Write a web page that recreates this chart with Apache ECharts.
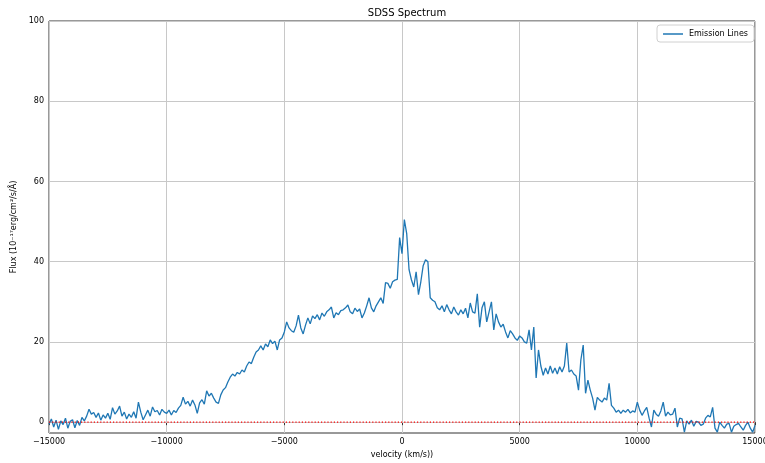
<!DOCTYPE html>
<html>
<head>
<meta charset="utf-8">
<title>SDSS Spectrum</title>
<script src="https://cdn.jsdelivr.net/npm/echarts@6/dist/echarts.min.js"></script>
<style>
  html, body { margin: 0; padding: 0; background: #ffffff; width: 100%; height: 100%; overflow: hidden; }
  #chart { width: 100vw; height: 100vh; }
</style>
</head>
<body>
<div id="chart"></div>
<script>
// Velocity grid (km/s) of the resampled spectrum around the line centre
const velocity = [
  -15000,-14900,-14800,-14700,-14600,-14500,-14400,-14300,-14200,-14100,
  -14000,-13900,-13800,-13700,-13600,-13500,-13400,-13300,-13200,-13100,
  -13000,-12900,-12800,-12700,-12600,-12500,-12400,-12300,-12200,-12100,
  -12000,-11900,-11800,-11700,-11600,-11500,-11400,-11300,-11200,-11100,
  -11000,-10900,-10800,-10700,-10600,-10500,-10400,-10300,-10200,-10100,
  -10000,-9900,-9800,-9700,-9600,-9500,-9400,-9300,-9200,-9100,
  -9000,-8900,-8800,-8700,-8600,-8500,-8400,-8300,-8200,-8100,
  -8000,-7900,-7800,-7700,-7600,-7500,-7400,-7300,-7200,-7100,
  -7000,-6900,-6800,-6700,-6600,-6500,-6400,-6300,-6200,-6100,
  -6000,-5900,-5800,-5700,-5600,-5500,-5400,-5300,-5200,-5100,
  -5000,-4900,-4800,-4700,-4600,-4500,-4400,-4300,-4200,-4100,
  -4000,-3900,-3800,-3700,-3600,-3500,-3400,-3300,-3200,-3100,
  -3000,-2900,-2800,-2700,-2600,-2500,-2400,-2300,-2200,-2100,
  -2000,-1900,-1800,-1700,-1600,-1500,-1400,-1300,-1200,-1100,
  -1000,-900,-800,-700,-600,-500,-400,-300,-200,-100,
  0,100,200,300,400,500,600,700,800,900,
  1000,1100,1200,1300,1400,1500,1600,1700,1800,1900,
  2000,2100,2200,2300,2400,2500,2600,2700,2800,2900,
  3000,3100,3200,3300,3400,3500,3600,3700,3800,3900,
  4000,4100,4200,4300,4400,4500,4600,4700,4800,4900,
  5000,5100,5200,5300,5400,5500,5600,5700,5800,5900,
  6000,6100,6200,6300,6400,6500,6600,6700,6800,6900,
  7000,7100,7200,7300,7400,7500,7600,7700,7800,7900,
  8000,8100,8200,8300,8400,8500,8600,8700,8800,8900,
  9000,9100,9200,9300,9400,9500,9600,9700,9800,9900,
  10000,10100,10200,10300,10400,10500,10600,10700,10800,10900,
  11000,11100,11200,11300,11400,11500,11600,11700,11800,11900,
  12000,12100,12200,12300,12400,12500,12600,12700,12800,12900,
  13000,13100,13200,13300,13400,13500,13600,13700,13800,13900,
  14000,14100,14200,14300,14400,14500,14600,14700,14800,14900,
  15000
];

// Continuum-subtracted flux, 1e-17 erg/cm^2/s/Å
const flux = [
  -0.5, 0.8, -1.2, 0.5, -1.8, 0.3, -0.6, 1.0, -1.5, 0.2,
  0.6, -1.4, 0.4, -0.8, 1.2, 0.3, 1.5, 3.2, 2.0, 2.4,
  1.2, 2.3, 0.5, 1.8, 1.0, 2.2, 0.7, 3.6, 2.0, 2.8,
  4.0, 1.5, 2.5, 0.8, 2.0, 1.2, 2.6, 1.0, 5.0, 2.5,
  0.6, 1.8, 3.0, 1.5, 3.8, 2.6, 2.9, 1.8, 3.2, 2.5,
  2.2, 3.0, 1.8, 2.9, 2.4, 3.5, 4.2, 6.2, 4.5, 5.2,
  4.0, 5.5, 4.3, 2.2, 4.8, 5.6, 4.5, 7.8, 6.5, 7.2,
  6.0, 5.0, 4.7, 6.8, 8.0, 8.6, 10.0, 11.2, 12.0, 11.5,
  12.4, 12.0, 13.0, 12.5, 14.0, 15.0, 14.6, 16.2, 17.5, 18.0,
  19.0, 18.0, 19.5, 18.8, 20.5, 19.6, 20.2, 18.0, 20.5, 21.0,
  22.5, 25.0, 23.5, 22.8, 22.4, 24.0, 26.7, 23.5, 22.0, 24.2,
  26.0, 24.5, 26.5, 25.8, 26.8, 25.5, 27.2, 26.4, 27.5, 28.0,
  28.7, 26.0, 27.3, 26.8, 27.8, 28.0, 28.5, 29.2, 27.5, 27.0,
  28.4, 27.6, 28.2, 26.0, 27.2, 29.0, 31.0, 28.5, 27.5, 29.0,
  30.0, 31.0, 29.6, 34.8, 34.6, 33.4, 35.0, 35.4, 35.6, 46.0,
  42.0, 50.5, 47.0, 38.0, 35.5, 33.7, 37.5, 31.8, 35.0, 39.0,
  40.5, 40.0, 31.0, 30.4, 30.0, 28.5, 28.0, 29.0, 27.5, 29.3,
  28.0, 27.0, 28.7, 27.5, 26.7, 28.0, 27.0, 28.4, 26.0, 29.7,
  27.5, 27.2, 32.0, 23.7, 28.5, 30.0, 25.0, 27.5, 30.0, 23.0,
  27.0, 25.0, 23.7, 24.4, 22.5, 21.0, 22.8, 22.0, 21.0, 20.4,
  21.5, 21.0, 20.0, 19.7, 23.0, 18.0, 23.7, 11.0, 18.0, 14.0,
  11.7, 13.5, 12.0, 14.0, 12.2, 13.5, 12.0, 13.8, 12.5, 14.0,
  19.7, 12.5, 13.0, 12.0, 11.5, 8.0, 15.5, 19.2, 7.2, 10.5,
  8.0, 6.0, 3.0, 6.2, 5.5, 5.0, 6.0, 5.5, 9.7, 4.2,
  3.5, 2.5, 3.0, 2.2, 3.0, 2.5, 3.2, 2.3, 2.8, 2.5,
  5.0, 3.0, 1.7, 2.8, 3.7, 1.0, -1.2, 3.0, 2.0, 1.5,
  2.8, 5.0, 1.5, 2.5, 1.8, 2.0, 3.5, -1.2, 1.0, 0.8,
  -2.5, 0.3, -0.5, 0.5, -1.0, 0.2, 0.0, -0.8, -0.5, 1.0,
  1.7, 1.3, 3.7, -1.5, -2.5, 0.0, -0.8, -1.5, -0.5, -0.3,
  -2.5, -1.0, -0.6, -0.3, -1.2, -2.0, -0.8, 0.0, -1.5, -2.5,
  -0.8
];

// Zero-flux reference line
const zeroLine = [[-15000, 0], [15000, 0]];

// Axis ticks
const xTicks = [-15000, -10000, -5000, 0, 5000, 10000, 15000];
const yTicks = [0, 20, 40, 60, 80, 100];

const FONT = 'DejaVu Sans';
const fmtNum = v => (v < 0 ? '\u2212' + Math.abs(v) : String(v));

const chart = echarts.init(document.getElementById('chart'), null, { renderer: 'canvas' });

chart.setOption({
  animation: false,
  backgroundColor: '#ffffff',
  textStyle: { fontFamily: FONT },
  title: {
    text: 'SDSS Spectrum',
    left: 402,
    top: 3,
    textAlign: 'center',
    textStyle: { fontFamily: FONT, fontSize: 10, fontWeight: 'normal', color: '#000' }
  },
  legend: {
    data: [{ name: 'Emission Lines', icon: 'rect' }],
    right: 11,
    top: 25,
    itemWidth: 20,
    itemHeight: 1.5,
    itemGap: 4,
    padding: [5, 6, 4, 6],
    borderColor: '#d0d0d0',
    borderWidth: 1,
    borderRadius: 3,
    backgroundColor: 'rgba(255,255,255,0.8)',
    textStyle: { fontFamily: FONT, fontSize: 8, color: '#000', padding: [0, 0, 0, 1] }
  },
  grid: {
    left: 49,
    right: 10,
    top: 21,
    bottom: 30,
    show: true,
    borderColor: '#333',
    borderWidth: 1,
    containLabel: false,
    outerBoundsMode: 'none'
  },
  xAxis: {
    type: 'value',
    min: -15000,
    max: 15000,
    interval: 5000,
    name: 'velocity (km/s))',
    nameLocation: 'middle',
    nameGap: 18,
    nameTextStyle: { fontFamily: FONT, fontSize: 8, color: '#000' },
    axisLine: { show: false },
    axisTick: { show: true, inside: false, length: 3, lineStyle: { color: '#333', width: 1 } },
    axisLabel: { fontFamily: FONT, fontSize: 8, color: '#000', margin: 5, formatter: fmtNum, showMinLabel: true, showMaxLabel: true },
    splitLine: { show: true, lineStyle: { color: '#c8c8c8', width: 1 } }
  },
  yAxis: {
    type: 'value',
    min: -2.7,
    max: 100,
    name: 'Flux (10\u207B\u00B9\u2077erg/cm\u00B2/s/\u00C5)',
    nameLocation: 'middle',
    nameGap: 30,
    nameRotate: 90,
    nameTextStyle: { fontFamily: FONT, fontSize: 8, color: '#000' },
    axisLine: { show: false },
    axisTick: { show: true, inside: false, length: 3, customValues: yTicks, lineStyle: { color: '#333', width: 1 } },
    axisLabel: { fontFamily: FONT, fontSize: 8, color: '#000', margin: 5, customValues: yTicks, formatter: fmtNum },
    splitLine: { show: false }
  },
  series: [
    {
      name: 'Emission Lines',
      type: 'line',
      data: velocity.map((v, i) => [v, flux[i]]),
      showSymbol: false,
      symbol: 'none',
      lineStyle: { color: '#1f77b4', width: 1.3 },
      itemStyle: { color: '#1f77b4' },
      z: 3,
      // horizontal grid lines at the labelled flux ticks
      markLine: {
        silent: true,
        symbol: ['none', 'none'],
        label: { show: false },
        lineStyle: { color: '#c8c8c8', width: 1, type: 'solid' },
        z: 1,
        data: yTicks.map(t => ({ yAxis: t }))
      }
    },
    {
      name: 'zero',
      type: 'line',
      data: zeroLine,
      showSymbol: false,
      symbol: 'none',
      lineStyle: { color: '#ff0000', width: 1.2, type: [1.2, 2] },
      z: 4
    }
  ]
});
window.addEventListener('resize', () => chart.resize());
</script>
</body>
</html>
